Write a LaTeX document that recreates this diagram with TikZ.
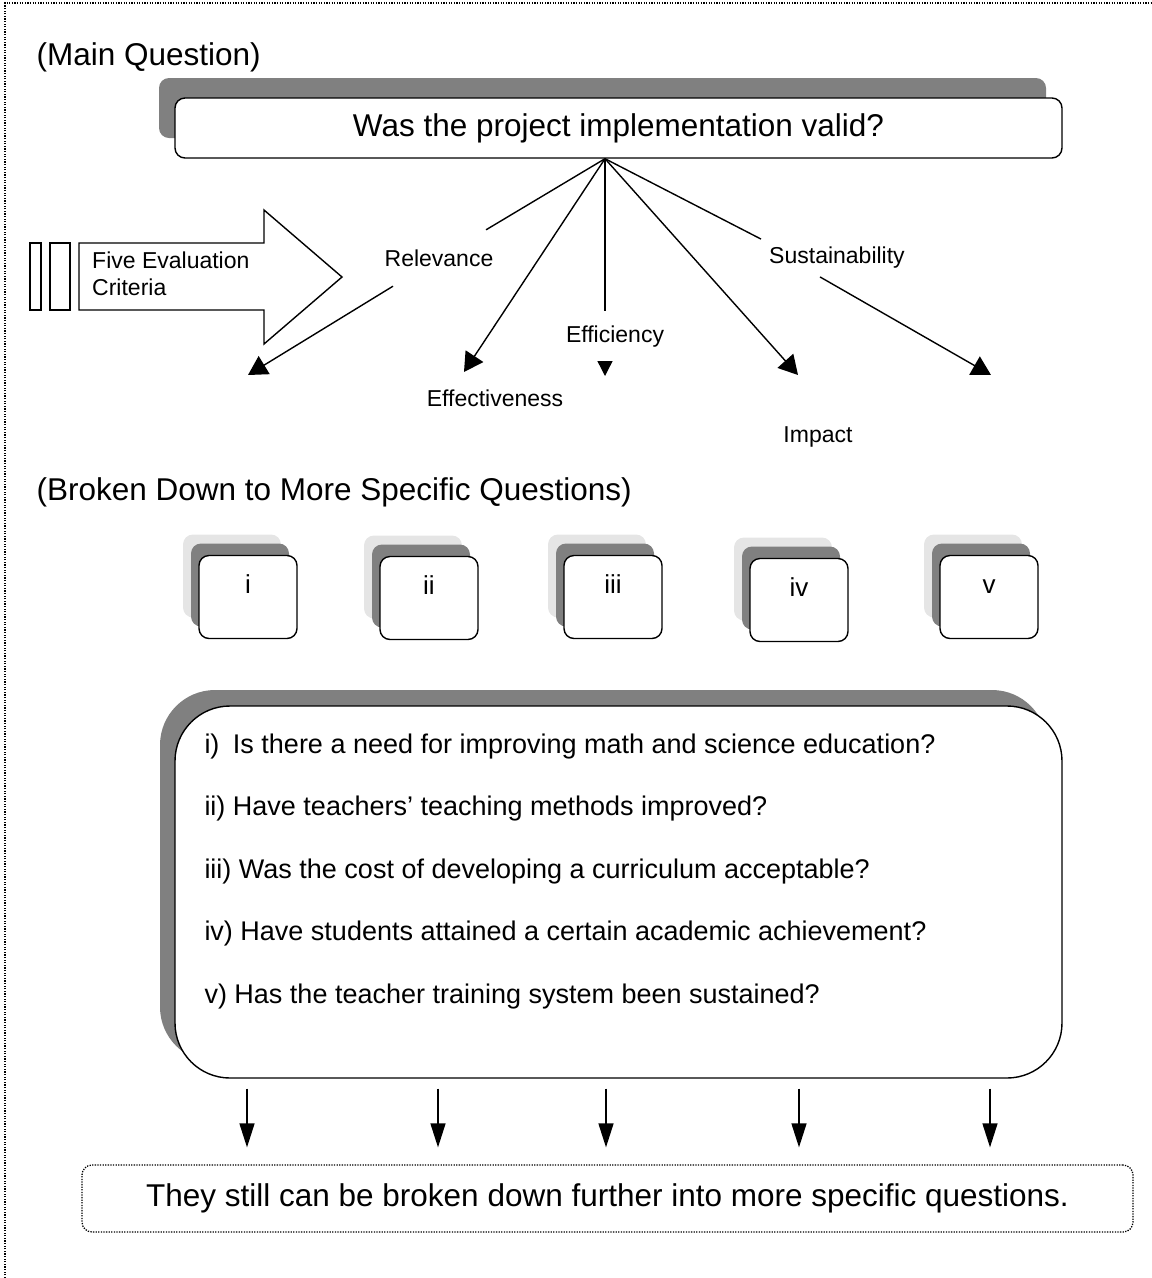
\documentclass[tikz,border=0pt]{standalone}
\usepackage{fontspec}
\setmainfont{Liberation Sans}
\usetikzlibrary{arrows.meta,shadows}

\definecolor{shade}{gray}{0.5}
\definecolor{lightshade}{gray}{0.9}

\tikzset{
  big/.style={font=\fontsize{31.5}{36}\selectfont},
  small/.style={font=\fontsize{23}{27}\selectfont},
  dots/.style={dash pattern=on 1.3pt off 1.3pt,line width=1.3pt},
  mainbox/.style={draw,fill=white,rounded corners=10pt,line width=1.4pt,
    minimum width=887pt,minimum height=60pt,
    copy shadow={shadow xshift=-16pt,shadow yshift=20pt,fill=shade,draw=none}},
  subbox/.style={draw,fill=white,rounded corners=10pt,line width=1.4pt,
    minimum width=98pt,inner ysep=7.5pt,text height=30pt,text depth=38pt,
    font=\fontsize{26}{30}\selectfont,
    copy shadow={shadow xshift=-16pt,shadow yshift=21pt,fill=lightshade,draw=none},
    copy shadow={shadow xshift=-8pt,shadow yshift=12pt,fill=shade,draw=none}},
  fan/.style={line width=1.4pt},
  bigarr/.style={line width=1.4pt,-{Triangle[length=19pt,width=21pt]}},
  downarr/.style={line width=1.4pt,-{Triangle[length=24pt,width=15pt]}}
}

\begin{document}
\begin{tikzpicture}[x=1pt,y=-1pt]
  \useasboundingbox (0,0) rectangle (1152,1278);
  \draw [dots] (5,1278) -- (5,3) -- (1152,3);

  % main question
  \node [big,anchor=west] (hmain) at (33,57) {(Main Question)};
  \node [mainbox,big] (mainq) at (618.5,128) {Was the project implementation valid?};
  \coordinate (hub) at ([xshift=-13.5pt]mainq.south);

  % five evaluation criteria
  \draw [line width=1.4pt] (30,243) rectangle (41,310);
  \draw [line width=1.4pt] (50,243) rectangle (70,310);
  \draw [line width=1.4pt] (79,243) -- (264,243) -- (264,210) -- (342,277)
    -- (264,344) -- (264,310) -- (79,310) -- cycle;
  \node [small,anchor=west,align=left,inner sep=0pt] (crit) at (92,274)
    {Five Evaluation\\Criteria};

  \node [small,minimum height=56pt,inner xsep=0pt] (rel) at (439,258) {Relevance};
  \node [small] (effe) at (495,398) {Effectiveness};
  \node [small,minimum height=52pt] (effi) at (615,337) {Efficiency};
  \node [small] (imp) at (818,437) {Impact};
  \node [small,inner sep=8pt] (sus) at (837,258) {Sustainability};

  \coordinate (relend) at (248,375);
  \coordinate (effeend) at (464,372);
  \coordinate (effiend) at (605,376);
  \coordinate (impend) at (798,375);
  \coordinate (susend) at (991,375);

  \draw [fan] (hub) -- (rel);
  \draw [bigarr] (rel) -- (relend);
  \draw [bigarr] (hub) -- (effeend);
  \draw [fan] (hub) -- (hub |- effi.north);
  \draw [line width=1.4pt,-{Triangle[length=15pt,width=15pt]}] (hub |- effi.south) -- (effiend);
  \draw [bigarr] (hub) -- (impend);
  \draw [fan] (hub) -- (sus.north west);
  \draw [bigarr] ([xshift=-17pt]sus.south) -- (susend);

  % specific questions
  \node [big,anchor=west] (hspec) at (33,492) {(Broken Down to More Specific Questions)};
  \node [subbox] (q1) at (248,597) {i};
  \node [subbox] (q2) at (429,598) {ii};
  \node [subbox] (q3) at (613,597) {iii};
  \node [subbox] (q4) at (799,600) {iv};
  \node [subbox] (q5) at (989,597) {v};

  \node [draw,fill=white,rounded corners=55pt,line width=1.4pt,
    minimum width=887pt,minimum height=372pt,
    copy shadow={shadow xshift=-15pt,shadow yshift=16pt,fill=shade,draw=none}]
    (qlist) at (618.5,892) {};
  \node [anchor=north west,inner sep=0pt,align=left,
    font=\fontsize{27}{62.5}\selectfont] (qtext) at ([xshift=30pt,yshift=-28pt]qlist.north west)
    {i)\enspace Is there a need for improving math and science education?\\
     ii) Have teachers' teaching methods improved?\\
     iii) Was the cost of developing a curriculum acceptable?\\
     iv) Have students attained a certain academic achievement?\\
     v) Has the teacher training system been sustained?};

  \node [big,draw,dots,rounded corners=10pt,
    minimum width=1051pt,minimum height=67pt] (note) at (607.5,1198.5)
    {They still can be broken down further into more specific questions.};

  \foreach \x in {247,438,606,799,990}
    \draw [downarr,shorten <=10pt,shorten >=17pt] (qlist.south -| \x,0) -- (note.north -| \x,0);

\end{tikzpicture}
\end{document}
